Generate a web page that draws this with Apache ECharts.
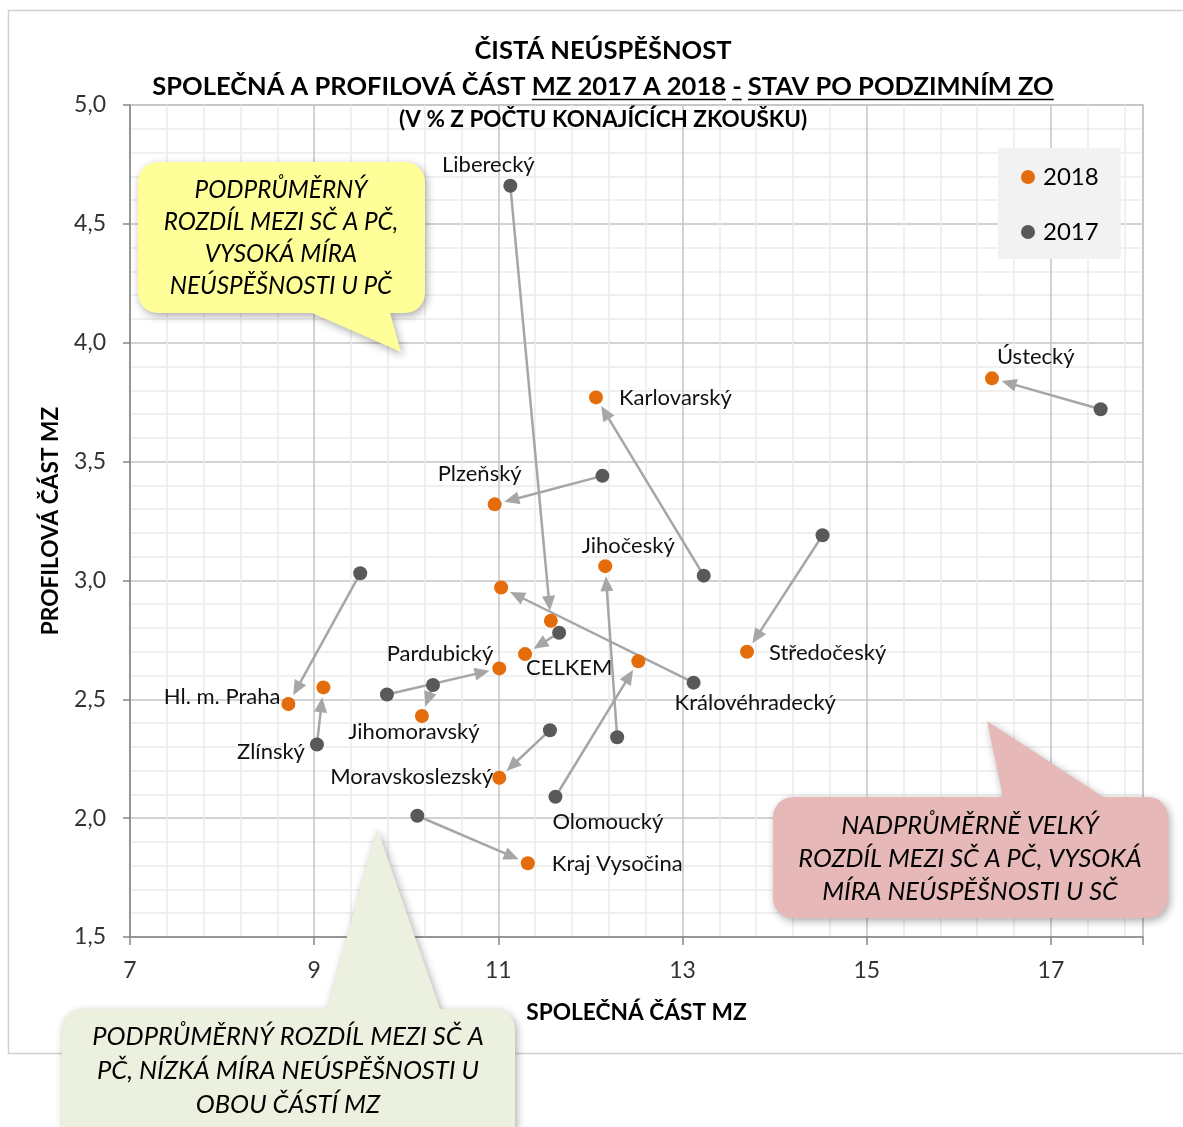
<!DOCTYPE html>
<html>
<head>
<meta charset="utf-8">
<title>Čistá neúspěšnost – společná a profilová část MZ</title>
<script src="https://cdn.jsdelivr.net/npm/echarts@6/dist/echarts.min.js"></script>
<style>
  html, body { margin: 0; padding: 0; background: #ffffff; }
  #chart { width: 1183px; height: 1127px; }
</style>
</head>
<body>
<div id="chart"></div>
<script>
// Kraje a celek ČR
const regions = ['Hl. m. Praha', 'Středočeský', 'Jihočeský', 'Plzeňský', 'Karlovarský', 'Ústecký',
  'Liberecký', 'Královéhradecký', 'Pardubický', 'Kraj Vysočina', 'Jihomoravský', 'Olomoucký',
  'Zlínský', 'Moravskoslezský', 'CELKEM'];

// Čistá neúspěšnost ve společné části MZ (%)
const sc2017 = [9.50, 14.52, 12.29, 12.13, 13.23, 17.54, 11.13, 13.12, 9.79, 10.12, 10.29, 11.62, 9.03, 11.56, 11.66];
const sc2018 = [8.72, 13.70, 12.16, 10.96, 12.06, 16.36, 11.57, 11.03, 11.01, 11.32, 10.17, 12.52, 9.10, 11.01, 11.29];

// Čistá neúspěšnost v profilové části MZ (%)
const pc2017 = [3.03, 3.19, 2.34, 3.44, 3.02, 3.72, 4.66, 2.57, 2.52, 2.01, 2.56, 2.09, 2.31, 2.37, 2.78];
const pc2018 = [2.48, 2.70, 3.06, 3.32, 3.77, 3.85, 2.83, 2.97, 2.63, 1.81, 2.43, 2.66, 2.55, 2.17, 2.69];

// Popisky os
const xTicks = [7, 9, 11, 13, 15, 17];
const yTicks = [1.5, 2.0, 2.5, 3.0, 3.5, 4.0, 4.5, 5.0];

const FONT = 'Lato, "Open Sans", sans-serif';
const ORANGE = '#E46C0A';
const GREY = '#595959';
const ARROW = '#a6a6a6';

// Umístění popisku u bodu (rok, zarovnání, posun od středu značky)
const labelPlacement = {
  'Liberecký':       { year: 2017, align: 'center', dx: -22, dy: -21 },
  'Karlovarský':     { year: 2018, align: 'left',   dx: 23,  dy: 1 },
  'Ústecký':         { year: 2018, align: 'left',   dx: 5,   dy: -21 },
  'Plzeňský':        { year: 2018, align: 'center', dx: -15, dy: -30 },
  'Jihočeský':       { year: 2018, align: 'center', dx: 23,  dy: -20 },
  'Středočeský':     { year: 2018, align: 'left',   dx: 22,  dy: 1 },
  'Královéhradecký': { year: 2017, align: 'left',   dx: -19, dy: 20 },
  'CELKEM':          { year: 2018, align: 'left',   dx: 1,   dy: 14 },
  'Olomoucký':       { year: 2017, align: 'left',   dx: -3,  dy: 25 },
  'Moravskoslezský': { year: 2018, align: 'right',  dx: -6,  dy: -1 },
  'Pardubický':      { year: 2018, align: 'right',  dx: -6,  dy: -14 },
  'Jihomoravský':    { year: 2018, align: 'center', dx: -8,  dy: 16 },
  'Hl. m. Praha':    { year: 2018, align: 'right',  dx: -8,  dy: -7 },
  'Zlínský':         { year: 2017, align: 'right',  dx: -12, dy: 7 },
  'Kraj Vysočina':   { year: 2018, align: 'left',   dx: 24,  dy: 1 }
};

function pointLabel(name, year) {
  const p = labelPlacement[name];
  if (!p || p.year !== year) return { show: false };
  return {
    show: true,
    position: 'inside',
    align: p.align,
    verticalAlign: 'middle',
    offset: [p.dx, p.dy],
    formatter: name,
    color: '#111111',
    fontSize: 22,
    fontFamily: FONT
  };
}

function points(xs, ys, year) {
  return regions.map((name, i) => ({
    name: name,
    value: [xs[i], ys[i]],
    label: pointLabel(name, year)
  }));
}

const arrowData = regions.map((name, i) => [sc2017[i], pc2017[i], sc2018[i], pc2018[i]]);

// Šipka od hodnoty 2017 k hodnotě 2018, hrot končí těsně před značkou
function renderArrow(params, api) {
  const p1 = api.coord([api.value(0), api.value(1)]);
  const p2 = api.coord([api.value(2), api.value(3)]);
  const dx = p2[0] - p1[0], dy = p2[1] - p1[1];
  const len = Math.hypot(dx, dy) || 1;
  const ux = dx / len, uy = dy / len;
  const nx = -uy, ny = ux;
  const tipGap = 10, headLen = 15, headHalf = 6.5;
  const tip = [p2[0] - ux * tipGap, p2[1] - uy * tipGap];
  const base = [tip[0] - ux * headLen, tip[1] - uy * headLen];
  return {
    type: 'group',
    children: [
      {
        type: 'line',
        shape: { x1: p1[0], y1: p1[1], x2: base[0] + ux * 2, y2: base[1] + uy * 2 },
        style: { stroke: ARROW, lineWidth: 2.5 }
      },
      {
        type: 'polygon',
        shape: { points: [tip, [base[0] + nx * headHalf, base[1] + ny * headHalf], [base[0] - nx * headHalf, base[1] - ny * headHalf]] },
        style: { fill: ARROW }
      }
    ]
  };
}

// Bublina se zaobleným obdélníkem a výběžkem
function roundedArc(cx, cy, r, a0, a1, out) {
  const n = 8;
  for (let k = 0; k <= n; k++) {
    const a = a0 + (a1 - a0) * k / n;
    out.push([cx + r * Math.cos(a), cy + r * Math.sin(a)]);
  }
}
function calloutPoints(x, y, w, h, r, tail) {
  const pts = [];
  const PI = Math.PI;
  roundedArc(x + r, y + r, r, PI, 1.5 * PI, pts);
  if (tail.edge === 'top') { pts.push([tail.a, y], tail.tip, [tail.b, y]); }
  roundedArc(x + w - r, y + r, r, 1.5 * PI, 2 * PI, pts);
  roundedArc(x + w - r, y + h - r, r, 0, 0.5 * PI, pts);
  if (tail.edge === 'bottom') { pts.push([tail.b, y + h], tail.tip, [tail.a, y + h]); }
  roundedArc(x + r, y + h - r, r, 0.5 * PI, PI, pts);
  return pts;
}
function callout(box, tail, fill, lines, textCenter, fontSize, lineHeight) {
  return [
    {
      type: 'polygon',
      z: 100,
      shape: { points: calloutPoints(box[0], box[1], box[2], box[3], 20, tail) },
      style: { fill: fill, shadowBlur: 8, shadowColor: 'rgba(0,0,0,0.33)', shadowOffsetX: 2, shadowOffsetY: 3 }
    },
    {
      type: 'text',
      z: 101,
      x: textCenter[0],
      y: textCenter[1],
      style: {
        text: lines.join('\n'),
        font: 'italic ' + fontSize + 'px ' + FONT,
        fill: '#000000',
        textAlign: 'center',
        textVerticalAlign: 'middle',
        align: 'center',
        verticalAlign: 'middle',
        lineHeight: lineHeight
      }
    }
  ];
}

// Nadpis: druhý řádek s podtrženými úseky
const titleLine1 = 'ČISTÁ NEÚSPĚŠNOST';
const titleParts = [
  { text: 'SPOLEČNÁ A PROFILOVÁ ČÁST ', underline: false },
  { text: 'MZ 2017 A 2018', underline: true },
  { text: ' ', underline: false },
  { text: '-', underline: true },
  { text: ' ', underline: false },
  { text: 'STAV PO PODZIMNÍM ZO', underline: true }
];
const titleLine3 = '(V % Z POČTU KONAJÍCÍCH ZKOUŠKU)';

const TITLE_CX = 603;
const titleFont = 'bold 25.5px ' + FONT;
const measureCtx = document.createElement('canvas').getContext('2d');
measureCtx.font = titleFont;
const line2Text = titleParts.map(p => p.text).join('');
const line2Width = measureCtx.measureText(line2Text).width;
const line2Left = TITLE_CX - line2Width / 2;
const underlineEls = [];
{
  let cursor = line2Left;
  titleParts.forEach(p => {
    const w = measureCtx.measureText(p.text).width;
    if (p.underline) {
      underlineEls.push({
        type: 'line', z: 10,
        shape: { x1: cursor, y1: 99.5, x2: cursor + w, y2: 99.5 },
        style: { stroke: '#000000', lineWidth: 1.6 }
      });
    }
    cursor += w;
  });
}

const graphics = [
  // rám grafu
  {
    type: 'polyline', z: 0,
    shape: { points: [[1183, 10.5], [8.5, 10.5], [8.5, 1053.5], [1183, 1053.5]] },
    style: { stroke: '#d0d0d0', lineWidth: 1.5, fill: null }
  },
  {
    type: 'text', z: 10, x: TITLE_CX, y: 51,
    style: { text: titleLine1, font: titleFont, fill: '#000', textAlign: 'center', textVerticalAlign: 'middle', align: 'center', verticalAlign: 'middle' }
  },
  {
    type: 'text', z: 10, x: line2Left, y: 87,
    style: { text: line2Text, font: titleFont, fill: '#000', textAlign: 'left', textVerticalAlign: 'middle', align: 'left', verticalAlign: 'middle' }
  },
  ...underlineEls,
  {
    type: 'text', z: 10, x: TITLE_CX, y: 120,
    style: { text: titleLine3, font: 'bold 22.5px ' + FONT, fill: '#000', textAlign: 'center', textVerticalAlign: 'middle', align: 'center', verticalAlign: 'middle' }
  },
  ...callout([138, 162, 287, 151], { edge: 'bottom', a: 312, b: 390, tip: [401, 352] }, '#FFFF99',
    ['PODPRŮMĚRNÝ', 'ROZDÍL MEZI SČ A PČ,', 'VYSOKÁ MÍRA', 'NEÚSPĚŠNOSTI U PČ'], [281, 238], 24.3, 32),
  ...callout([773, 797, 395, 121], { edge: 'top', a: 1003, b: 1103, tip: [987, 721] }, '#E6B9B8',
    ['NADPRŮMĚRNĚ VELKÝ', 'ROZDÍL MEZI SČ A PČ, VYSOKÁ', 'MÍRA NEÚSPĚŠNOSTI U SČ'], [970, 859], 25.3, 33),
  ...callout([62, 1009, 453, 140], { edge: 'top', a: 327, b: 440, tip: [377, 828] }, '#EBF1DE',
    ['PODPRŮMĚRNÝ ROZDÍL MEZI SČ A', 'PČ, NÍZKÁ MÍRA NEÚSPĚŠNOSTI U', 'OBOU ČÁSTÍ MZ'], [288, 1071], 25.5, 34)
];

const chart = echarts.init(document.getElementById('chart'), null, { renderer: 'canvas' });

chart.setOption({
  backgroundColor: '#ffffff',
  animation: false,
  textStyle: { fontFamily: FONT },
  grid: {
    left: 130, right: 40, top: 105, bottom: 190,
    show: true, borderColor: '#bfbfbf', borderWidth: 1.5, backgroundColor: 'transparent'
  },
  legend: {
    data: ['2018', '2017'],
    orient: 'vertical',
    left: 998, top: 148,
    backgroundColor: '#f2f2f2',
    padding: [17, 22, 15, 23],
    itemGap: 31,
    itemWidth: 14, itemHeight: 14,
    icon: 'circle',
    selectedMode: false,
    textStyle: { fontSize: 24, color: '#000', fontFamily: FONT, padding: [0, 0, 0, 3] }
  },
  xAxis: {
    type: 'value',
    min: 7, max: 18, interval: 2,
    name: 'SPOLEČNÁ ČÁST MZ',
    nameLocation: 'middle',
    nameGap: 64,
    nameTextStyle: { fontSize: 22.7, fontWeight: 'bold', color: '#000', fontFamily: FONT },
    axisLine: { show: true, onZero: false, lineStyle: { color: '#868686', width: 1.5 } },
    axisTick: { show: true, length: 8, lineStyle: { color: '#868686', width: 1.5 } },
    axisLabel: {
      fontSize: 23, color: '#333', margin: 22, fontFamily: FONT,
      formatter: v => (xTicks.indexOf(v) >= 0 ? String(v) : '')
    },
    splitLine: { show: true, lineStyle: { color: '#c4c4c4', width: 1.5 } },
    minorTick: { show: false, splitNumber: 5 },
    minorSplitLine: { show: true, lineStyle: { color: '#ececec', width: 1.5 } }
  },
  yAxis: {
    type: 'value',
    min: 1.5, max: 5, interval: 0.5,
    name: 'PROFILOVÁ ČÁST MZ',
    nameLocation: 'middle',
    nameGap: 68,
    nameTextStyle: { fontSize: 22.7, fontWeight: 'bold', color: '#000', fontFamily: FONT },
    axisLine: { show: true, onZero: false, lineStyle: { color: '#868686', width: 1.5 } },
    axisTick: { show: true, length: 7, lineStyle: { color: '#868686', width: 1.5 } },
    axisLabel: {
      fontSize: 23, color: '#333', margin: 24, fontFamily: FONT,
      formatter: v => {
        const t = yTicks.find(k => Math.abs(k - v) < 1e-9);
        return t === undefined ? '' : t.toFixed(1).replace('.', ',');
      }
    },
    splitLine: { show: true, lineStyle: { color: '#c4c4c4', width: 1.5 } },
    minorTick: { show: false, splitNumber: 5 },
    minorSplitLine: { show: true, lineStyle: { color: '#ececec', width: 1.5 } }
  },
  series: [
    {
      name: 'změna 2017 → 2018',
      type: 'custom',
      renderItem: renderArrow,
      data: arrowData,
      encode: { x: [0, 2], y: [1, 3] },
      silent: true,
      z: 1
    },
    {
      name: '2018',
      type: 'scatter',
      symbol: 'circle',
      symbolSize: 14,
      itemStyle: { color: ORANGE, opacity: 1 },
      data: points(sc2018, pc2018, 2018),
      z: 3
    },
    {
      name: '2017',
      type: 'scatter',
      symbol: 'circle',
      symbolSize: 14,
      itemStyle: { color: GREY, opacity: 1 },
      data: points(sc2017, pc2017, 2017),
      z: 3
    }
  ],
  graphic: { elements: graphics }
});
</script>
</body>
</html>
